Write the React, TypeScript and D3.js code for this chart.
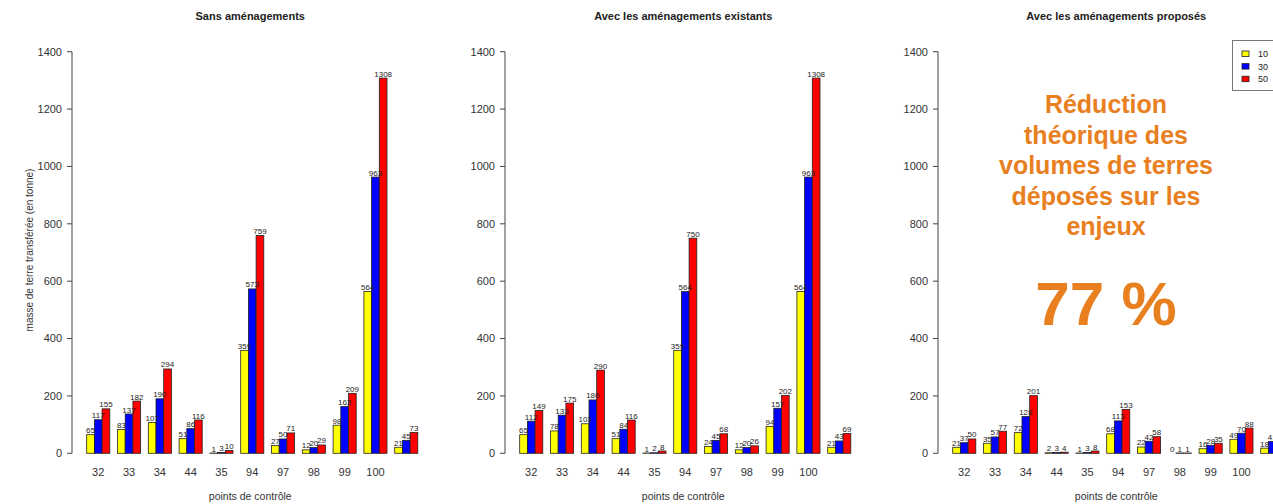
import * as d3 from "d3";

// points de contrôle (le 11e groupe n'a pas d'étiquette)
const categories = ["32", "33", "34", "44", "35", "94", "97", "98", "99", "100", ""];
const periods = ["10", "30", "50"];
const colors = ["#ffff00", "#0000ff", "#ff0000"];

const titles = [
  "Sans aménagements",
  "Avec les aménagements existants",
  "Avec les aménagements proposés",
];

// Sans aménagements
const sans10 = [65, 83, 107, 51, 1, 359, 27, 12, 98, 564, 21];
const sans30 = [117, 137, 190, 86, 3, 573, 50, 20, 163, 963, 45];
const sans50 = [155, 182, 294, 116, 10, 759, 71, 29, 209, 1308, 73];

// Avec les aménagements existants
const exist10 = [65, 78, 103, 51, 1, 359, 24, 12, 94, 564, 21];
const exist30 = [112, 133, 186, 84, 2, 564, 45, 20, 157, 963, 43];
const exist50 = [149, 175, 290, 116, 8, 750, 68, 26, 202, 1308, 69];

// Avec les aménagements proposés
const prop10 = [21, 35, 72, 2, 1, 68, 22, 0, 16, 49, 18];
const prop30 = [37, 57, 128, 3, 3, 113, 42, 1, 28, 70, 41];
const prop50 = [50, 77, 201, 4, 8, 153, 58, 1, 35, 88, 60];

const panels = [
  [sans10, sans30, sans50],
  [exist10, exist30, exist50],
  [prop10, prop30, prop50],
];

const yTicks = [0, 200, 400, 600, 800, 1000, 1200, 1400];
const reductionLines = ["Réduction", "théorique des", "volumes de terres", "déposés sur les", "enjeux"];

const W = 1273;
const H = 504;
const panelStep = 433; // décalage horizontal entre les panneaux
const font = "'Liberation Sans', Arial, Helvetica, sans-serif";
const orange = "#e8801f";

const y = d3.scaleLinear().domain([0, 1400]).range([453.3, 51.7]);

const x = d3
  .scaleBand<number>()
  .domain(d3.range(categories.length))
  .range([79, 425.5])
  .paddingInner(0.25)
  .paddingOuter(0.25);

const xs = d3.scaleBand<number>().domain([0, 1, 2]).range([0, x.bandwidth()]);

function Panel({ idx }: { idx: number }) {
  const series = panels[idx];
  const axisX = 72;
  const mid = (x.range()[0] + x.range()[1]) / 2 - 2;
  return (
    <g transform={`translate(${idx * panelStep},0)`}>
      {/* titre */}
      <text x={mid} y={20} textAnchor="middle" fontWeight="bold" fontSize={11} fill="#222">
        {titles[idx]}
      </text>

      {/* axe y */}
      <line x1={axisX} x2={axisX} y1={y(0)} y2={y(1400)} stroke="#444" strokeWidth={1} />
      {yTicks.map((t) => (
        <g key={t}>
          <line x1={axisX - 5} x2={axisX} y1={y(t)} y2={y(t)} stroke="#444" />
          <text x={axisX - 10} y={y(t)} dy="0.35em" textAnchor="end" fontSize={11} fill="#333">
            {t}
          </text>
        </g>
      ))}

      {/* barres */}
      {categories.map((c, i) => (
        <g key={i} transform={`translate(${x(i)},0)`}>
          {series.map((vals, s) => (
            <rect
              key={s}
              x={xs(s)}
              y={y(vals[i])}
              width={xs.bandwidth()}
              height={y(0) - y(vals[i])}
              fill={colors[s]}
              stroke="#222"
              strokeWidth={0.8}
            />
          ))}
          {series.map((vals, s) => (
            <text
              key={"l" + s}
              x={(xs(s) as number) + xs.bandwidth() / 2}
              y={y(vals[i]) - 1.5}
              textAnchor="middle"
              fontSize={8}
              fill="#222"
            >
              {vals[i]}
            </text>
          ))}
          <text x={x.bandwidth() / 2} y={476} textAnchor="middle" fontSize={11} fill="#333">
            {c}
          </text>
        </g>
      ))}

      <text x={mid} y={500} textAnchor="middle" fontSize={10.5} fill="#333">
        points de contrôle
      </text>
    </g>
  );
}

export default function App() {
  return (
    <svg
      width={W}
      height={H}
      style={{ position: "absolute", left: 0, top: 0, background: "#fff", fontFamily: font }}
    >
      <rect width={W} height={H} fill="#fff" />
      {panels.map((_, i) => (
        <Panel key={i} idx={i} />
      ))}

      <text
        transform="translate(33,250) rotate(-90)"
        textAnchor="middle"
        fontSize={10}
        fill="#333"
      >
        masse de terre transférée (en tonne)
      </text>

      {/* légende */}
      <g>
        <rect x={1232.5} y={40.5} width={60} height={50} fill="#fff" stroke="#777" />
        {periods.map((p, i) => (
          <g key={p}>
            <rect x={1242} y={51 + i * 12.6} width={7} height={5.5} fill={colors[i]} stroke="#222" strokeWidth={0.8} />
            <text x={1258} y={54 + i * 12.6} dy="0.35em" fontSize={9} fill="#222">
              {p}
            </text>
          </g>
        ))}
      </g>

      {/* texte de réduction */}
      <g fill={orange} fontWeight="bold" textAnchor="middle">
        {reductionLines.map((l, i) => (
          <text key={i} x={1106} y={113 + i * 30.5} fontSize={25}>
            {l}
          </text>
        ))}
        <text x={1106} y={325} fontSize={62}>
          77 %
        </text>
      </g>
    </svg>
  );
}
